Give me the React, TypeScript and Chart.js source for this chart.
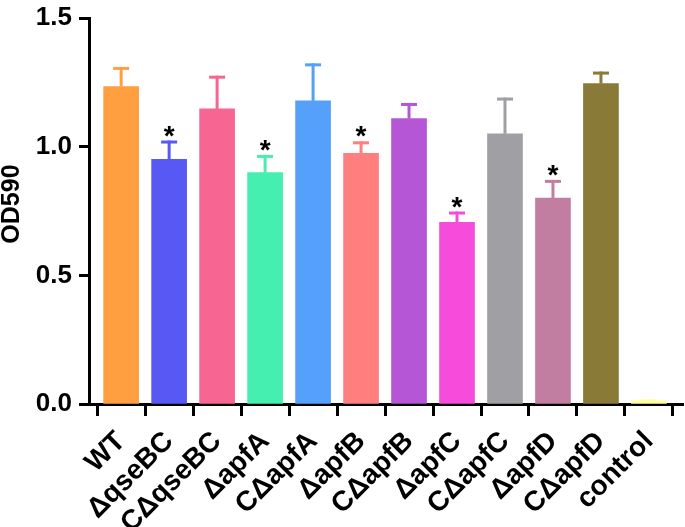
import React, { useEffect, useRef } from "react";
import { Chart, registerables } from "chart.js";

Chart.register(...registerables);

const CATEGORIES = ["WT", "ΔqseBC", "CΔqseBC", "ΔapfA", "CΔapfA", "ΔapfB", "CΔapfB", "ΔapfC", "CΔapfC", "ΔapfD", "CΔapfD", "control"];
const MEANS = [1.234, 0.951, 1.147, 0.899, 1.178, 0.974, 1.109, 0.706, 1.05, 0.8, 1.245, 0.012];
const SD = [0.076, 0.073, 0.129, 0.069, 0.146, 0.047, 0.061, 0.042, 0.141, 0.071, 0.047, 0.006];
const SIGNIF = ["", "*", "", "*", "", "*", "", "*", "", "*", "", ""];
const COLORS = ["#FF9F40", "#5858F5", "#F76592", "#45EFAF", "#55A0FB", "#FF7F7F", "#B556D6", "#F54CDB", "#A0A0A4", "#C27EA0", "#8A7A37", "#FFFF99"];
const Y_TICKS = [0, 0.5, 1.0, 1.5];
const Y_TITLE = "OD590";

const FONT = "'Liberation Sans', Arial, Helvetica, sans-serif";

const errorBarPlugin = {
  id: "errorBars",
  afterDatasetsDraw(chart: any) {
    const ctx = chart.ctx;
    const meta = chart.getDatasetMeta(0);
    const yScale = chart.scales.y;
    ctx.save();
    meta.data.forEach((bar: any, i: number) => {
      const x = bar.x;
      const barTop = bar.y;
      const yTop = yScale.getPixelForValue(MEANS[i] + SD[i]);
      ctx.fillStyle = COLORS[i];
      ctx.fillRect(x - 1.5, yTop, 3, barTop - yTop);
      ctx.fillRect(x - 8, yTop, 16, 3);
      if (SIGNIF[i]) {
        ctx.fillStyle = "#000";
        ctx.font = `bold 28px ${FONT}`;
        ctx.textAlign = "center";
        ctx.textBaseline = "alphabetic";
        const m = ctx.measureText(SIGNIF[i]);
        const asc = m.actualBoundingBoxAscent;
        const desc = m.actualBoundingBoxDescent;
        const centerY = yTop - 9.5;
        ctx.fillText(SIGNIF[i], x, centerY + (asc - desc) / 2);
      }
    });
    ctx.restore();
  },
  afterDraw(chart: any) {
    const ctx = chart.ctx;
    const area = chart.chartArea;
    ctx.save();
    ctx.fillStyle = "#000";
    ctx.font = `bold 25px ${FONT}`;
    ctx.textAlign = "center";
    ctx.textBaseline = "middle";
    ctx.translate(12, (area.top + area.bottom) / 2 - 7);
    ctx.rotate(-Math.PI / 2);
    ctx.fillText(Y_TITLE, 0, 0);
    ctx.restore();
  },
};

export default function App() {
  const ref = useRef<HTMLCanvasElement>(null);
  useEffect(() => {
    if (!ref.current) return;
    Chart.defaults.font.family = FONT;
    const chart = new Chart(ref.current, {
      type: "bar",
      data: {
        datasets: [
          {
            data: MEANS.map((v, i) => ({ x: i, y: v })),
            backgroundColor: COLORS,
            borderWidth: 0,
            barThickness: 35,
          },
        ],
      },
      options: {
        animation: false,
        responsive: false,
        maintainAspectRatio: false,
        layout: { padding: { top: 12.5, right: 2, left: 0, bottom: 0 } },
        plugins: { legend: { display: false }, tooltip: { enabled: false } },
        scales: {
          x: {
            type: "linear",
            min: -0.67,
            max: 11.71,
            bounds: "data",
            offset: false,
            z: 1,
            afterFit: (s: any) => {
              s.height = 123;
            },
            afterBuildTicks: (s: any) => {
              s.ticks = CATEGORIES.map((_, i) => ({ value: i }));
            },
            border: { display: true, color: "#000", width: 3 },
            grid: { drawOnChartArea: false, drawTicks: true, tickLength: 12, tickWidth: 3, tickColor: "#000", color: "#000" },
            ticks: {
              autoSkip: false,
              minRotation: 45,
              maxRotation: 45,
              padding: 9,
              color: "#000",
              font: { size: 28, weight: "bold", lineHeight: 1.2 },
              callback: (v: any) => CATEGORIES[v] ?? "",
            },
          },
          y: {
            min: 0,
            max: 1.5,
            z: 1,
            afterFit: (s: any) => {
              s.width = 89;
            },
            afterBuildTicks: (s: any) => {
              s.ticks = Y_TICKS.map((v) => ({ value: v }));
            },
            border: { display: true, color: "#000", width: 3 },
            grid: { drawOnChartArea: false, drawTicks: true, tickLength: 10, tickWidth: 3, tickColor: "#000", color: "#000" },
            ticks: {
              padding: 7,
              color: "#000",
              font: { size: 26, weight: "bold", lineHeight: 0.85 },
              callback: (v: any) => Number(v).toFixed(1),
            },
            title: { display: false },
          },
        },
      },
      plugins: [errorBarPlugin],
    } as any);
    return () => chart.destroy();
  }, []);
  return (
    <div style={{ position: "fixed", left: 0, top: 0, width: 685, height: 527, background: "#fff" }}>
      <canvas ref={ref} width={685} height={527} />
    </div>
  );
}
